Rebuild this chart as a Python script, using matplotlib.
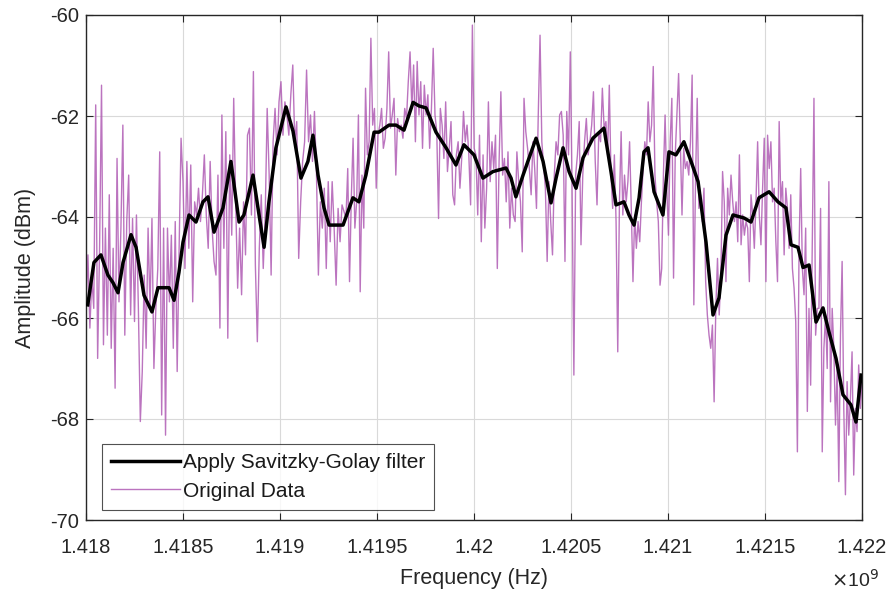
import numpy as np
import matplotlib
matplotlib.use("Agg")
import matplotlib.pyplot as plt

plt.rcParams['font.family'] = ['Liberation Sans', 'DejaVu Sans']

# ---------------- data (frequency in GHz-like units x1e9, amplitude dBm) -------------
# Strip boundaries of the sampled original data (frequency, x 1e9 Hz)
strip_edges = [1.418000, 1.418670, 1.419340, 1.420010, 1.420680, 1.421351, 1.422000]

orig_s1 = [-65.74, -64.75, -66.20, -65.21, -65.81, -61.78, -66.80, -64.62, -61.39, -66.53,
           -64.22, -66.34, -63.56, -66.60, -64.62, -67.39, -62.84, -65.68, -64.22, -62.18,
           -66.34, -64.09, -63.17, -65.94, -64.03, -66.07, -63.96, -65.81, -68.05, -67.06,
           -65.15, -66.60, -64.22, -65.81, -64.03, -67.00, -65.81, -65.02, -62.71, -67.92,
           -64.22, -68.32, -64.22, -65.68, -64.36, -66.60, -64.09, -67.06, -64.62, -62.44,
           -63.30, -65.02, -62.90, -64.62, -62.97, -65.68, -63.70, -63.96, -63.43, -64.09,
           -63.56, -62.77, -63.96, -64.62, -62.90, -64.22, -64.88]
orig_s2 = [-65.15, -63.17, -66.20, -61.98, -64.62, -62.31, -66.40, -62.77, -64.36, -61.65,
           -63.70, -65.41, -64.22, -65.54, -63.70, -64.75, -62.38, -62.24, -63.96, -61.12,
           -64.95, -66.47, -64.62, -63.56, -65.02, -63.96, -61.85, -63.17, -65.15, -62.51,
           -61.85, -62.77, -61.72, -61.32, -62.38, -61.72, -61.98, -62.38, -61.58, -60.99,
           -62.51, -62.11, -64.82, -63.70, -62.90, -62.51, -61.09, -62.51, -61.98, -62.90,
           -61.91, -63.10, -65.15, -63.70, -64.22, -63.43, -65.02, -63.30, -64.49, -63.30,
           -64.22, -65.35, -63.83, -64.49, -63.76, -63.89]
orig_s3 = [-64.03, -63.04, -65.28, -63.63, -62.44, -64.22, -63.70, -61.98, -65.48, -63.17,
           -64.22, -61.45, -62.77, -62.51, -60.46, -62.18, -61.85, -63.43, -62.38, -62.18,
           -61.85, -62.64, -62.44, -61.85, -60.73, -62.24, -61.98, -61.65, -63.17, -62.05,
           -62.31, -62.18, -62.44, -61.85, -62.05, -61.32, -60.73, -61.85, -60.99, -62.51,
           -60.92, -61.98, -61.32, -62.64, -61.39, -61.98, -61.58, -62.64, -61.85, -60.66,
           -61.98, -62.31, -64.03, -61.85, -62.18, -62.84, -61.72, -63.10, -62.64, -62.11,
           -63.56, -63.76, -62.77, -62.51, -63.43, -62.84, -61.91, -62.51, -62.18, -62.77,
           -63.76, -60.20, -62.64]
orig_s4 = [-62.77, -63.96, -62.38, -64.49, -62.77, -64.22, -63.43, -61.72, -63.30, -62.51,
           -63.04, -62.38, -65.02, -62.90, -61.52, -63.17, -62.84, -63.70, -62.71, -64.22,
           -63.43, -63.96, -64.09, -62.71, -63.30, -63.70, -64.69, -61.65, -62.31, -62.64,
           -63.04, -63.56, -62.51, -63.04, -63.83, -61.98, -60.40, -62.51, -62.97, -63.43,
           -64.88, -63.30, -64.09, -64.75, -63.17, -62.51, -62.77, -61.98, -61.91, -62.38,
           -64.88, -61.91, -62.77, -60.73, -63.43, -67.13, -63.17, -62.77, -62.11, -64.55,
           -63.17, -62.51, -62.05, -62.77, -62.51, -62.18, -61.52, -62.90, -63.76, -62.31,
           -62.51, -61.45, -62.24]
orig_s5 = [-62.11, -62.77, -61.39, -63.17, -63.83, -62.77, -64.09, -66.67, -63.70, -62.31,
           -63.96, -63.17, -63.70, -63.30, -62.51, -63.83, -65.28, -63.96, -64.62, -64.09,
           -64.49, -63.70, -63.04, -62.51, -62.77, -61.72, -62.51, -62.18, -61.02, -63.17,
           -63.70, -64.09, -65.35, -65.02, -63.17, -61.98, -63.43, -64.36, -62.51, -61.65,
           -65.21, -62.77, -61.98, -61.16, -62.51, -63.96, -62.64, -63.04, -62.90, -63.17,
           -62.51, -61.19, -65.74, -63.30, -61.65, -63.83, -63.56, -64.09, -63.43, -65.28,
           -65.94, -66.34, -66.60, -66.14, -67.66, -65.81, -64.82, -65.94, -65.15, -63.10,
           -63.70, -65.28, -63.43, -63.96, -63.17, -63.70, -64.09]
orig_s6 = [-63.70, -64.49, -62.77, -64.55, -63.96, -64.36, -64.09, -64.22, -65.28, -63.56,
           -63.96, -64.62, -63.70, -62.51, -63.96, -64.55, -63.43, -62.44, -65.28, -62.38,
           -63.04, -62.51, -63.70, -63.43, -64.49, -65.28, -62.11, -63.70, -63.30, -64.75,
           -63.43, -63.83, -64.62, -63.56, -65.02, -65.41, -66.07, -68.65, -64.62, -63.04,
           -65.02, -65.54, -64.22, -67.85, -65.81, -67.33, -64.49, -61.65, -66.34, -65.81,
           -65.81, -63.83, -68.65, -66.60, -65.94, -67.00, -63.30, -67.66, -65.81, -66.60,
           -68.12, -67.00, -69.24, -66.34, -64.88, -67.79, -69.50, -67.26, -68.32, -67.59,
           -66.67, -69.11, -67.79, -68.25, -66.93, -67.79, -67.26]
orig_strips = [orig_s1, orig_s2, orig_s3, orig_s4, orig_s5, orig_s6]

# Savitzky-Golay filtered curve
sg_freq = [1.418009, 1.418041, 1.418077, 1.418113, 1.418139, 1.418165, 1.418191, 1.418232,
           1.418258, 1.418299, 1.418340, 1.418371, 1.418402, 1.418428, 1.418454, 1.418479,
           1.418500, 1.418531, 1.418567, 1.418603, 1.418629, 1.418660, 1.418706, 1.418747,
           1.418789, 1.418814, 1.418861, 1.418892, 1.418918, 1.418943, 1.418979, 1.419031,
           1.419067, 1.419108, 1.419144, 1.419170, 1.419196, 1.419227, 1.419253, 1.419325,
           1.419376, 1.419407, 1.419443, 1.419485, 1.419510, 1.419562, 1.419598, 1.419639,
           1.419686, 1.419716, 1.419753, 1.419804, 1.419856, 1.419907, 1.419948, 1.420000,
           1.420046, 1.420098, 1.420165, 1.420191, 1.420216, 1.420253, 1.420284, 1.420320,
           1.420356, 1.420397, 1.420423, 1.420459, 1.420490, 1.420526, 1.420562, 1.420613,
           1.420670, 1.420706, 1.420732, 1.420773, 1.420799, 1.420825, 1.420851, 1.420876,
           1.420897, 1.420928, 1.420974, 1.421005, 1.421041, 1.421082, 1.421119, 1.421155,
           1.421196, 1.421232, 1.421263, 1.421299, 1.421335, 1.421392, 1.421428, 1.421469,
           1.421521, 1.421567, 1.421608, 1.421634, 1.421670, 1.421696, 1.421727, 1.421763,
           1.421799, 1.421830, 1.421866, 1.421902, 1.421943, 1.421969, 1.421995]
sg_amp = [-65.74, -64.90, -64.75, -65.15, -65.30, -65.50, -64.90, -64.35,
          -64.60, -65.55, -65.88, -65.40, -65.40, -65.40, -65.65, -65.10,
          -64.50, -63.96, -64.10, -63.70, -63.60, -64.30, -63.82, -62.90,
          -64.10, -63.96, -63.17, -63.96, -64.60, -63.70, -62.63, -61.82,
          -62.30, -63.23, -62.90, -62.38, -63.17, -63.82, -64.16, -64.16,
          -63.62, -63.70, -63.17, -62.32, -62.32, -62.18, -62.18, -62.28,
          -61.73, -61.80, -61.84, -62.32, -62.63, -62.97, -62.57, -62.77,
          -63.23, -63.10, -63.03, -63.23, -63.60, -63.17, -62.83, -62.44,
          -62.90, -63.72, -63.23, -62.63, -63.10, -63.43, -62.83, -62.44,
          -62.24, -63.10, -63.76, -63.70, -63.96, -64.16, -63.62, -62.71,
          -62.63, -63.50, -63.96, -62.71, -62.77, -62.51, -62.90, -63.30,
          -64.50, -65.94, -65.60, -64.36, -63.96, -64.02, -64.10, -63.62,
          -63.50, -63.70, -63.82, -64.55, -64.60, -65.00, -64.95, -66.08,
          -65.80, -66.28, -66.80, -67.52, -67.72, -68.06, -67.13]

x_ticks = [1.418, 1.4185, 1.419, 1.4195, 1.42, 1.4205, 1.421, 1.4215, 1.422]
x_ticklabels = ['1.418', '1.4185', '1.419', '1.4195', '1.42', '1.4205', '1.421', '1.4215', '1.422']
y_ticks = [-70, -68, -66, -64, -62, -60]

# ---------------- figure ----------------
fig = plt.figure(figsize=(8.94, 6.01), dpi=100)
ax = fig.add_axes([86/894, 81/601, 776/894, 505/601])

orig_freq = []
orig_amp = []
for i, seg in enumerate(orig_strips):
    f = np.linspace(strip_edges[i], strip_edges[i + 1], len(seg), endpoint=(i == len(orig_strips) - 1))
    orig_freq.extend(f)
    orig_amp.extend(seg)

GHZ = 1e9
ax.plot(np.array(sg_freq) * GHZ, sg_amp, color='black', lw=2.5, label='Apply Savitzky-Golay filter', zorder=3)
ax.plot(np.array(orig_freq) * GHZ, orig_amp, color='#b05cb4', lw=1.0, alpha=0.85, label='Original Data', zorder=2)

ax.set_xlim(1.418 * GHZ, 1.422 * GHZ)
ax.set_ylim(-70, -60)
ax.set_xticks([t * GHZ for t in x_ticks])
ax.set_xticklabels(x_ticklabels)
ax.set_yticks(y_ticks)
ax.set_yticklabels([str(t) for t in y_ticks])

edge = '#262626'
for s in ax.spines.values():
    s.set_color(edge)
    s.set_linewidth(1.0)
ax.tick_params(direction='in', top=True, right=True, length=5, width=0.8, colors=edge,
               labelsize=14.5, labelcolor='#262626')
ax.tick_params(axis='x', pad=13)
ax.tick_params(axis='y', pad=5)
ax.grid(True, color='#d9d9d9', lw=0.8)
ax.set_axisbelow(True)

ax.set_xlabel('Frequency (Hz)', fontsize=15.5, color='#262626', labelpad=8)
ax.set_ylabel('Amplitude (dBm)', fontsize=15.5, color='#262626', labelpad=10)
ax.text(0.960, -0.118, r'$\times$10$^{9}$', transform=ax.transAxes, ha='left', va='center',
        fontsize=14, color='#262626')

leg = ax.legend(loc='lower left', bbox_to_anchor=(0.02, 0.02), fontsize=15, frameon=True,
                fancybox=False, edgecolor='#262626', handlelength=3.3, handletextpad=0.15,
                borderpad=0.45, labelspacing=0.45, borderaxespad=0.0)
leg.get_frame().set_linewidth(0.8)
for t in leg.get_texts():
    t.set_color('#1a1a1a')

fig.savefig('out.png', dpi=100)
